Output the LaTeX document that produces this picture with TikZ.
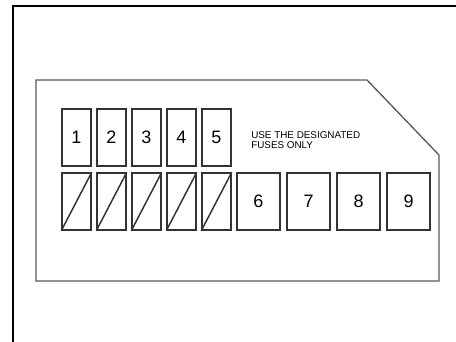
\documentclass[tikz,border=0pt]{standalone}
\usepackage{fontspec}
\setmainfont{Liberation Sans}
\begin{document}
\begin{tikzpicture}[
    x=0.75pt, y=-0.75pt,
    fuse/.style = {rectangle, draw=black!80, line width=1.1pt, inner sep=0pt, minimum width=21.75pt, minimum height=42.75pt, font=\fontsize{13.5}{14}\selectfont},
    bigfuse/.style = {fuse, minimum width=32.25pt},
    panel/.style = {draw=black!65, line width=1pt},
    frame/.style = {draw=black, line width=2.2pt}
]
    \useasboundingbox (0,0) rectangle (456,342);
    \draw[frame] (13,343) |- (458,6);

    % fuse box outline
    \draw[panel] (36,80) -- (367,80) -- (439,155) -- (439,281) -- (36,281) -- cycle;

    % small fuses and spares
    \foreach \i in {1,...,5} {
        \node[fuse] (f\i) at (41.5+35*\i, 137.5) {\i};
        \node[fuse] (s\i) at (41.5+35*\i, 201.5) {};
        \draw[line width=1.1pt, black!80] (s\i.south west) -- (s\i.north east);
    }

    % large fuses
    \foreach \i in {6,...,9} {
        \node[bigfuse] (f\i) at (258.5+50*\i-300, 201.5) {\i};
    }

    \node[anchor=north west, inner sep=0pt, align=left, font=\fontsize{7.4}{8}\selectfont] (note) at (251,131) {USE THE DESIGNATED\\FUSES ONLY};
\end{tikzpicture}
\end{document}
